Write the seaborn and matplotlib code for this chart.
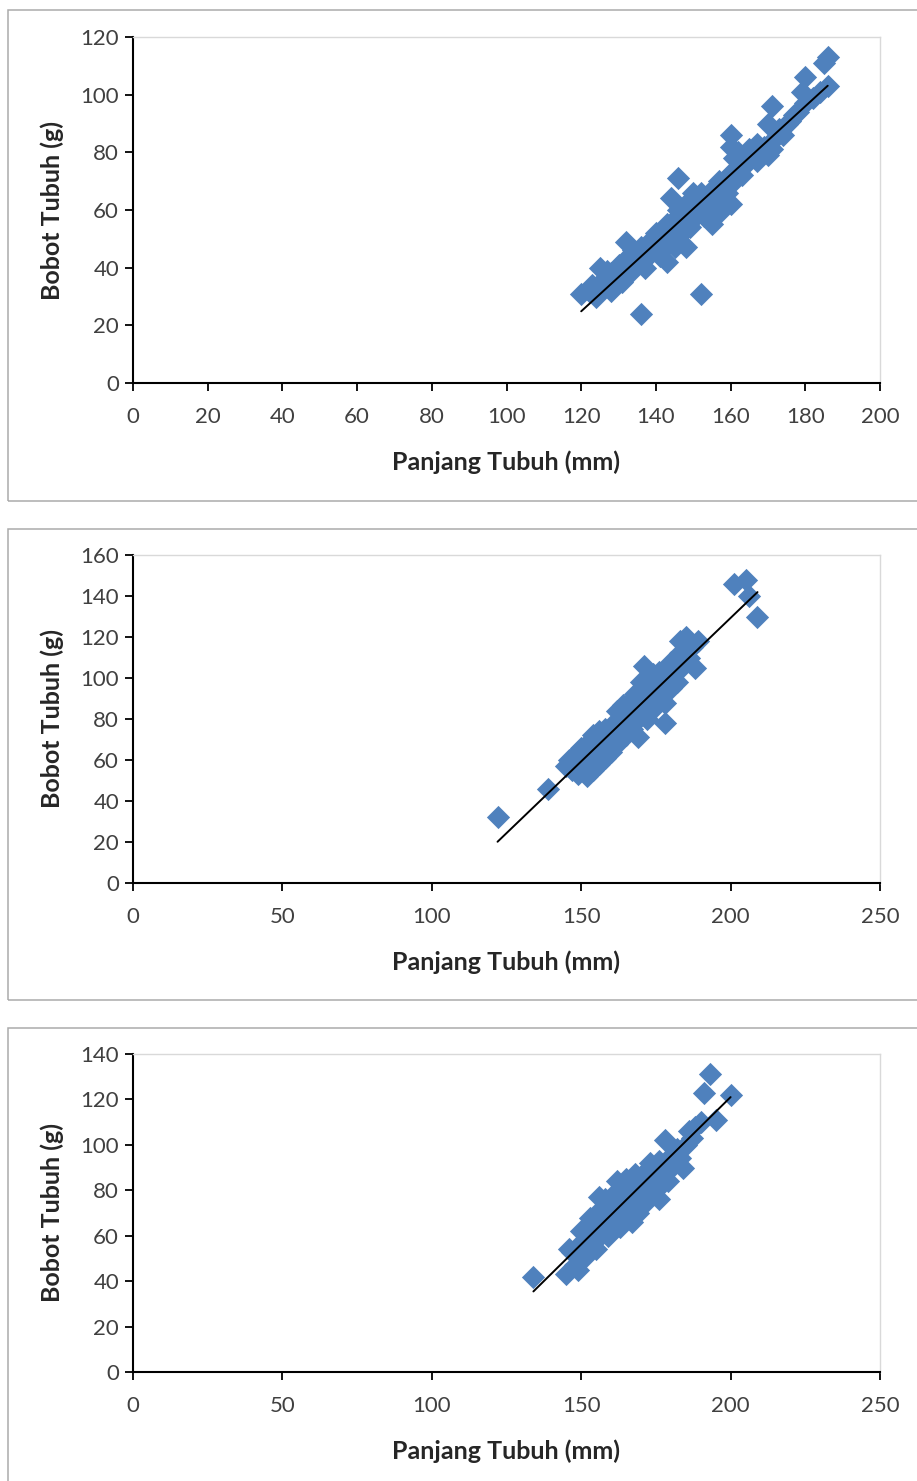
import matplotlib
matplotlib.use("Agg")
import matplotlib.pyplot as plt
from matplotlib.patches import Rectangle
import pandas as pd
import seaborn as sns

# ---------------------------------------------------------------------------
# DATA
# ---------------------------------------------------------------------------
X_LABEL = "Panjang Tubuh (mm)"
Y_LABEL = "Bobot Tubuh (g)"

# (panjang mm, bobot g)
panel1_points = [
    (120, 31), (122, 32), (123, 34), (124, 30), (125, 40), (125, 33), (126, 36),
    (127, 35), (127, 39), (128, 38), (128, 32), (129, 34), (130, 37), (130, 41),
    (131, 35), (131, 40), (132, 49), (132, 43), (133, 38), (133, 44), (134, 40),
    (134, 46), (135, 41), (135, 45), (136, 24), (136, 47), (137, 40), (137, 43),
    (138, 48), (138, 44), (139, 46), (139, 50), (140, 46), (140, 52), (141, 49),
    (141, 44), (142, 53), (142, 50), (143, 42), (143, 55), (143, 48), (144, 64),
    (144, 51), (145, 57), (145, 53), (145, 47), (146, 71), (146, 60), (146, 55),
    (147, 58), (147, 52), (148, 47), (148, 62), (148, 56), (149, 59), (149, 54),
    (150, 66), (150, 61), (150, 57), (151, 63), (151, 59), (152, 31), (152, 66),
    (152, 60), (153, 62), (153, 58), (154, 64), (154, 60), (155, 67), (155, 55),
    (156, 66), (156, 62), (157, 59), (157, 70), (158, 68), (158, 63), (159, 71),
    (159, 66), (160, 86), (160, 82), (160, 73), (160, 62), (161, 78), (161, 70),
    (162, 80), (162, 75), (163, 76), (163, 72), (164, 79), (165, 77), (165, 81),
    (166, 80), (167, 77), (167, 83), (168, 80), (169, 82), (170, 79), (170, 90),
    (171, 96), (171, 81), (172, 85), (173, 88), (174, 86), (175, 90), (176, 91),
    (177, 93), (178, 94), (179, 101), (180, 106), (180, 97), (182, 99),
    (184, 101), (186, 103), (186, 113), (185, 111),
]

panel2_points = [
    (122, 32), (139, 46), (145, 57), (146, 60), (147, 55), (148, 62), (148, 58),
    (149, 64), (149, 53), (150, 60), (150, 66), (151, 56), (151, 63), (152, 52),
    (152, 68), (153, 59), (153, 65), (154, 72), (154, 55), (155, 62), (155, 69),
    (156, 74), (156, 58), (157, 66), (157, 71), (158, 61), (158, 75), (159, 67),
    (160, 70), (160, 64), (161, 73), (161, 78), (162, 68), (162, 84), (163, 75),
    (163, 71), (164, 80), (164, 87), (165, 77), (165, 72), (166, 83), (166, 88),
    (167, 79), (167, 75), (168, 85), (168, 92), (169, 80), (169, 71), (170, 88),
    (170, 98), (171, 84), (171, 106), (172, 92), (172, 80), (173, 95), (173, 88),
    (174, 102), (174, 85), (175, 90), (176, 97), (176, 103), (177, 93), (178, 78),
    (178, 88), (179, 100), (180, 95), (180, 108), (181, 103), (182, 98),
    (183, 112), (183, 118), (184, 106), (185, 120), (186, 110), (187, 115),
    (188, 105), (189, 118), (201, 146), (205, 148), (206, 140), (209, 130),
]

panel3_points = [
    (134, 42), (145, 43), (146, 54), (147, 53), (148, 47), (149, 45), (150, 57),
    (150, 62), (151, 50), (152, 64), (152, 58), (153, 68), (154, 57), (154, 66),
    (155, 54), (156, 77), (156, 61), (157, 68), (157, 72), (158, 64), (158, 76),
    (159, 60), (160, 70), (160, 77), (161, 74), (161, 66), (162, 78), (162, 84),
    (163, 70), (163, 64), (164, 82), (164, 75), (165, 68), (165, 85), (166, 79),
    (166, 73), (167, 85), (167, 66), (168, 87), (168, 76), (169, 82), (169, 70),
    (170, 86), (170, 78), (171, 74), (172, 89), (172, 82), (173, 92), (174, 84),
    (175, 80), (175, 88), (176, 76), (176, 93), (177, 86), (178, 102), (178, 90),
    (179, 84), (180, 95), (181, 91), (182, 98), (183, 94), (184, 90), (185, 100),
    (186, 106), (187, 103), (188, 108), (190, 110), (191, 123), (193, 131),
    (195, 111), (200, 122),
]

panel1_xticks = [0, 20, 40, 60, 80, 100, 120, 140, 160, 180, 200]
panel1_yticks = [0, 20, 40, 60, 80, 100, 120]
panel2_xticks = [0, 50, 100, 150, 200, 250]
panel2_yticks = [0, 20, 40, 60, 80, 100, 120, 140, 160]
panel3_xticks = [0, 50, 100, 150, 200, 250]
panel3_yticks = [0, 20, 40, 60, 80, 100, 120, 140]

# ---------------------------------------------------------------------------
# STYLE / LAYOUT
# ---------------------------------------------------------------------------
MARKER_BLUE = "#4F81BD"
TICK_GREY = "#404040"
FIG_W, FIG_H = 917, 1481
DPI = 100

# plot area in pixels: left, top, right, bottom
AXES_PX = [(133, 37, 880, 383), (133, 555, 880, 883), (133, 1054, 880, 1372)]
# outer chart frame in pixels: top, bottom
BOX_PX = [(10, 501), (529, 1000), (1028, 1520)]

sns.set_style("white")
plt.rcParams["font.family"] = ["Lato", "DejaVu Sans"]


def _draw_panel(fig, points, xticks, yticks, ax_px, box_px):
    left, top, right, bottom = ax_px
    w_px, h_px = right - left, bottom - top

    # grey frame around the whole chart, as Excel draws it
    b_top, b_bot = box_px
    fig.patches.append(Rectangle(
        (8 / FIG_W, 1 - b_bot / FIG_H), 1.2, (b_bot - b_top) / FIG_H,
        transform=fig.transFigure, fill=False, edgecolor="#ABABAB",
        linewidth=1.1, zorder=0))

    ax = fig.add_axes([left / FIG_W, 1 - bottom / FIG_H, w_px / FIG_W, h_px / FIG_H])
    df = pd.DataFrame(points, columns=["panjang", "bobot"])

    sns.regplot(data=df, x="panjang", y="bobot", ax=ax, ci=None, truncate=True,
                marker="D",
                scatter_kws=dict(s=140, color=MARKER_BLUE, linewidths=0, alpha=1),
                line_kws=dict(color="black", linewidth=1.4))

    ax.set_xlim(xticks[0], xticks[-1])
    ax.set_ylim(yticks[0], yticks[-1])
    ax.set_xticks(xticks)
    ax.set_yticks(yticks)
    ax.tick_params(axis="both", direction="out", length=6, width=1.3,
                   color="black", labelsize=16, labelcolor=TICK_GREY,
                   bottom=True, left=True)
    ax.tick_params(axis="x", pad=11)
    ax.tick_params(axis="y", pad=4)

    for side in ("top", "right"):
        ax.spines[side].set_color("#D9D9D9")
        ax.spines[side].set_linewidth(1.0)
    for side in ("left", "bottom"):
        ax.spines[side].set_color("black")
        ax.spines[side].set_linewidth(1.5)

    ax.set_xlabel(X_LABEL, fontsize=18, fontweight="bold", va="center")
    ax.set_ylabel(Y_LABEL, fontsize=18, fontweight="bold", va="center")
    ax.xaxis.set_label_coords(0.5, -79 / h_px)
    ax.yaxis.set_label_coords(-81 / w_px, 0.5)
    ax.grid(False)
    return ax


def main():
    fig = plt.figure(figsize=(FIG_W / DPI, FIG_H / DPI), dpi=DPI)
    panels = [
        (panel1_points, panel1_xticks, panel1_yticks),
        (panel2_points, panel2_xticks, panel2_yticks),
        (panel3_points, panel3_xticks, panel3_yticks),
    ]
    for (pts, xt, yt), ax_px, box_px in zip(panels, AXES_PX, BOX_PX):
        _draw_panel(fig, pts, xt, yt, ax_px, box_px)
    fig.savefig("out.png", dpi=DPI, facecolor="white")
    plt.close(fig)


if __name__ == "__main__":
    main()
